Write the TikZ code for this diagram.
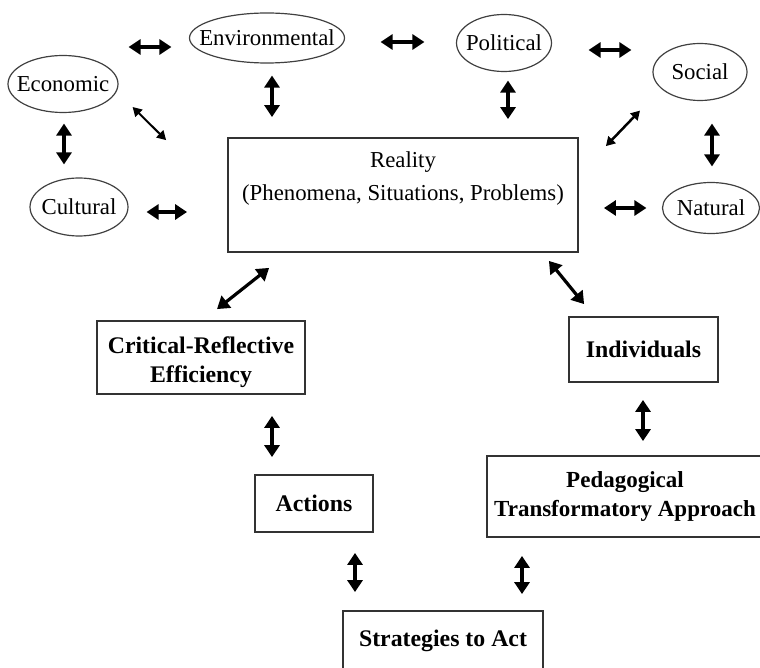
\documentclass[tikz,border=0pt]{standalone}
\usepackage{fontspec}
\setmainfont{Liberation Serif}
\usepackage{tikz}
\usetikzlibrary{
  arrows.meta,
  shapes.geometric
}

\begin{document}
\begin{tikzpicture}[x=1pt,y=-1pt,
  oval/.style={ellipse, draw=black!75, line width=1.2pt, inner sep=0pt,
    label={[font=\fontsize{22.8}{27}\selectfont, inner sep=0pt]center:#1}},
  box/.style={rectangle, draw=black!80, line width=1.8pt, inner sep=0pt,
    align=center, font=\fontsize{23.8}{29}\selectfont\bfseries},
  dbl/.style={{Triangle[width=15pt,length=12pt]}-{Triangle[width=15pt,length=12pt]},
    line width=3.2pt},
  thindbl/.style={{Triangle[width=10pt,length=9pt]}-{Triangle[width=10pt,length=9pt]},
    line width=2pt}]
\useasboundingbox (0,0) rectangle (760,668);

% outer aspects
\node[oval=Economic, minimum width=110pt, minimum height=57pt] (eco) at (63,84) {};
\node[oval=Environmental, minimum width=155pt, minimum height=50pt] (env) at (267,38) {};
\node[oval=Political, minimum width=95pt, minimum height=57pt] (pol) at (504,43) {};
\node[oval=Social, minimum width=94pt, minimum height=57pt] (soc) at (700,72) {};
\node[oval=Cultural, minimum width=98pt, minimum height=58pt] (cul) at (79,207) {};
\node[oval=Natural, minimum width=97pt, minimum height=51pt] (nat) at (711,208) {};

% reality
\node[box, minimum width=350pt, minimum height=114pt,
  label={[anchor=north, align=center, inner sep=0pt, yshift=-14pt,
    font=\fontsize{22.8}{33}\selectfont]north:{Reality\\(Phenomena, Situations, Problems)}}]
  (real) at (403,195) {};

% lower boxes
\node[box, minimum width=208pt, minimum height=73pt, label={[align=center, inner sep=0pt,
    yshift=-5pt, font=\fontsize{23.8}{29}\selectfont\bfseries]center:{Critical-Reflective\\Efficiency}}]
  (crit) at (201,357.5) {};
\node[box, minimum width=149pt, minimum height=65pt] (ind) at (643.5,349.5) {Individuals};
\node[box, minimum width=118pt, minimum height=57pt] (act) at (314,503.5) {Actions};
\node[box, minimum width=276pt, minimum height=81pt, font=\fontsize{23}{29}\selectfont\bfseries]
  (ped) at (625,496.5) {Pedagogical\\Transformatory Approach};
\node[box, minimum width=200pt, minimum height=60pt] (strat) at (443,641) {Strategies to Act};

% arrows around reality
\draw[dbl] ([shift={(10,-37)}]eco.east) -- ([shift={(-17.5,9)}]env.west);
\draw[dbl] ([shift={(5,12)}]env.south) -- ([shift={(-131,-20)}]real.north);
\draw[thindbl] ([shift={(14,23)}]eco.east) -- ([shift={(-61,3)}]real.north west);
\draw[dbl] ([shift={(1,10.5)}]eco.south) -- ([shift={(-15,-13)}]cul.north);
\draw[dbl] ([shift={(18,5)}]cul.east) -- ([shift={(-40,17)}]real.west);
\draw[dbl] ([shift={(35.5,4)}]env.east) -- ([shift={(-31.5,-1)}]pol.west);
\draw[dbl] ([shift={(4,8.5)}]pol.south) -- ([shift={(105,-18)}]real.north);
\draw[dbl] ([shift={(36.5,7)}]pol.east) -- ([shift={(-21,-22)}]soc.west);
\draw[thindbl, line width=2.5pt] ([shift={(-60,9.5)}]soc.south) -- ([shift={(27,9)}]real.north east);
\draw[dbl] ([shift={(12,22.5)}]soc.south) -- ([shift={(1,-15.5)}]nat.north);
\draw[dbl] ([shift={(25,13)}]real.east) -- ([shift={(-15.5,0)}]nat.west);

% arrows below reality
\draw[dbl] ([shift={(42,15)}]real.south west) -- ([shift={(16,-11)}]crit.north);
\draw[dbl] ([shift={(-30,8)}]real.south east) -- ([shift={(16,-12)}]ind.north west);
\draw[dbl] ([shift={(71,21)}]crit.south) -- ([shift={(-42,-17)}]act.north);
\draw[dbl] ([shift={(-0.5,17)}]ind.south) -- ([shift={(18,-14)}]ped.north);
\draw[dbl] ([shift={(41,20)}]act.south) -- ([shift={(-88,-18)}]strat.north);
\draw[dbl] ([shift={(-103,18)}]ped.south) -- ([shift={(79,-16)}]strat.north);
\end{tikzpicture}
\end{document}
